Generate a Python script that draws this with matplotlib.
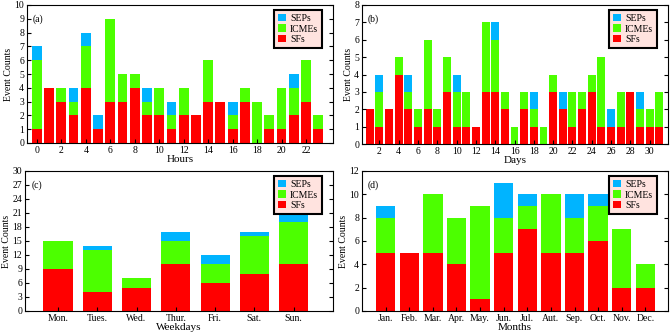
import matplotlib
matplotlib.use("Agg")
import matplotlib.pyplot as plt
import numpy as np

plt.rcParams['font.family'] = ['Liberation Serif', 'DejaVu Serif']
plt.rcParams['mathtext.fontset'] = 'stix'

# ---- data ----
hours = list(range(24))
hours_sf = [1, 4, 3, 2, 4, 1, 3, 3, 4, 2, 2, 1, 2, 2, 3, 3, 1, 3, 0, 1, 1, 2, 3, 1]
hours_icme = [5, 0, 1, 1, 3, 0, 6, 2, 1, 1, 2, 1, 2, 0, 3, 0, 1, 1, 3, 1, 3, 2, 3, 1]
hours_sep = [1, 0, 0, 1, 1, 1, 0, 0, 0, 1, 0, 1, 0, 0, 0, 0, 1, 0, 0, 0, 0, 1, 0, 0]

days = list(range(1, 32))
days_sf = [2, 1, 2, 4, 2, 1, 2, 1, 3, 1, 1, 1, 3, 3, 2, 0, 2, 1, 0, 3, 2, 1, 2, 3, 1, 1, 1, 3, 1, 1, 1]
days_icme = [0, 2, 0, 1, 1, 1, 4, 1, 2, 2, 2, 0, 4, 3, 1, 1, 1, 1, 1, 1, 0, 2, 1, 1, 4, 0, 2, 0, 1, 1, 2]
days_sep = [0, 1, 0, 0, 1, 0, 0, 0, 0, 1, 0, 0, 0, 1, 0, 0, 0, 1, 0, 0, 1, 0, 0, 0, 0, 1, 0, 0, 1, 0, 0]

weekdays = ['Mon.', 'Tues.', 'Wed.', 'Thur.', 'Fri.', 'Sat.', 'Sun.']
week_sf = [9, 4, 5, 10, 6, 8, 10]
week_icme = [6, 9, 2, 5, 4, 8, 9]
week_sep = [0, 1, 0, 2, 2, 1, 2]

months = ['Jan.', 'Feb.', 'Mar.', 'Apr.', 'May.', 'Jun.', 'Jul.', 'Aut.', 'Sep.', 'Oct.', 'Nov.', 'Dec.']
month_sf = [5, 5, 5, 4, 1, 5, 7, 5, 5, 6, 2, 2]
month_icme = [3, 0, 5, 4, 8, 3, 2, 5, 3, 3, 5, 2]
month_sep = [1, 0, 0, 0, 0, 3, 1, 0, 2, 1, 0, 0]

C_SF = '#ff0000'
C_ICME = '#4cff00'
C_SEP = '#00b4ff'

W, H = 670, 333
fig = plt.figure(figsize=(W / 100, H / 100), dpi=100)


def make_ax(l, r, t, b):
    ax = fig.add_axes([l / W, 1 - b / H, (r - l) / W, (b - t) / H])
    ax._px = (r - l, b - t)
    return ax


def panel(ax, x, sf, icme, sep, width, label, xlabel, ylim, yticks, xlim):
    sf = np.array(sf); icme = np.array(icme); sep = np.array(sep)
    ax.bar(x, sf, width, color=C_SF, label='SFs', linewidth=0)
    ax.bar(x, icme, width, bottom=sf, color=C_ICME, label='ICMEs', linewidth=0)
    ax.bar(x, sep, width, bottom=sf + icme, color=C_SEP, label='SEPs', linewidth=0)
    ax.set_ylim(*ylim)
    ax.set_yticks(yticks)
    ax.set_xlim(*xlim)
    ax.set_xlabel(xlabel, fontsize=8, labelpad=0)
    ax.set_ylabel('Event Counts', fontsize=7, labelpad=1)
    ax.tick_params(axis='both', labelsize=7, direction='in', length=3, width=0.8, pad=2)
    ax.tick_params(axis='y', right=True)
    for s in ax.spines.values():
        s.set_linewidth(0.8)
    ax.text(0.02, 0.93, label, transform=ax.transAxes, fontsize=7, va='top', ha='left')
    h, l = ax.get_legend_handles_labels()
    pw, ph = ax._px
    leg = ax.legend(h[::-1], l[::-1], loc='upper right', fontsize=7, frameon=True,
                    fancybox=False, handlelength=0.8, handleheight=0.8, handletextpad=0.4,
                    borderpad=0.4, labelspacing=0.15, borderaxespad=0,
                    bbox_to_anchor=(1 - 11 / pw, 1 - 5 / ph))
    fr = leg.get_frame()
    fr.set_facecolor('#ffe3df')
    fr.set_edgecolor('black')
    fr.set_linewidth(1.5)
    fr.set_alpha(1)


ax1 = make_ax(27, 333, 5, 143)
panel(ax1, hours, hours_sf, hours_icme, hours_sep, 0.8, '(a)', 'Hours',
      (0, 10), range(0, 11), (-0.8, 24.2))
ax1.set_xticks(range(0, 23, 2))

ax2 = make_ax(362, 668, 5, 144)
panel(ax2, days, days_sf, days_icme, days_sep, 0.82, '(b)', 'Days',
      (0, 8), range(0, 9), (0.2, 31.9))
ax2.set_xticks(range(2, 31, 2))

ax3 = make_ax(25, 333, 171, 311)
panel(ax3, range(len(weekdays)), week_sf, week_icme, week_sep, 0.74, '(c)', 'Weekdays',
      (0, 30), range(0, 31, 3), (-0.84, 7.0))
ax3.set_xticks(range(len(weekdays)))
ax3.set_xticklabels(weekdays)

ax4 = make_ax(362, 668, 171, 311)
panel(ax4, range(len(months)), month_sf, month_icme, month_sep, 0.82, '(d)', 'Months',
      (0, 12), range(0, 13, 2), (-1.0, 11.96))
ax4.set_xticks(range(len(months)))
ax4.set_xticklabels(months)

fig.savefig('out.png', dpi=100)
